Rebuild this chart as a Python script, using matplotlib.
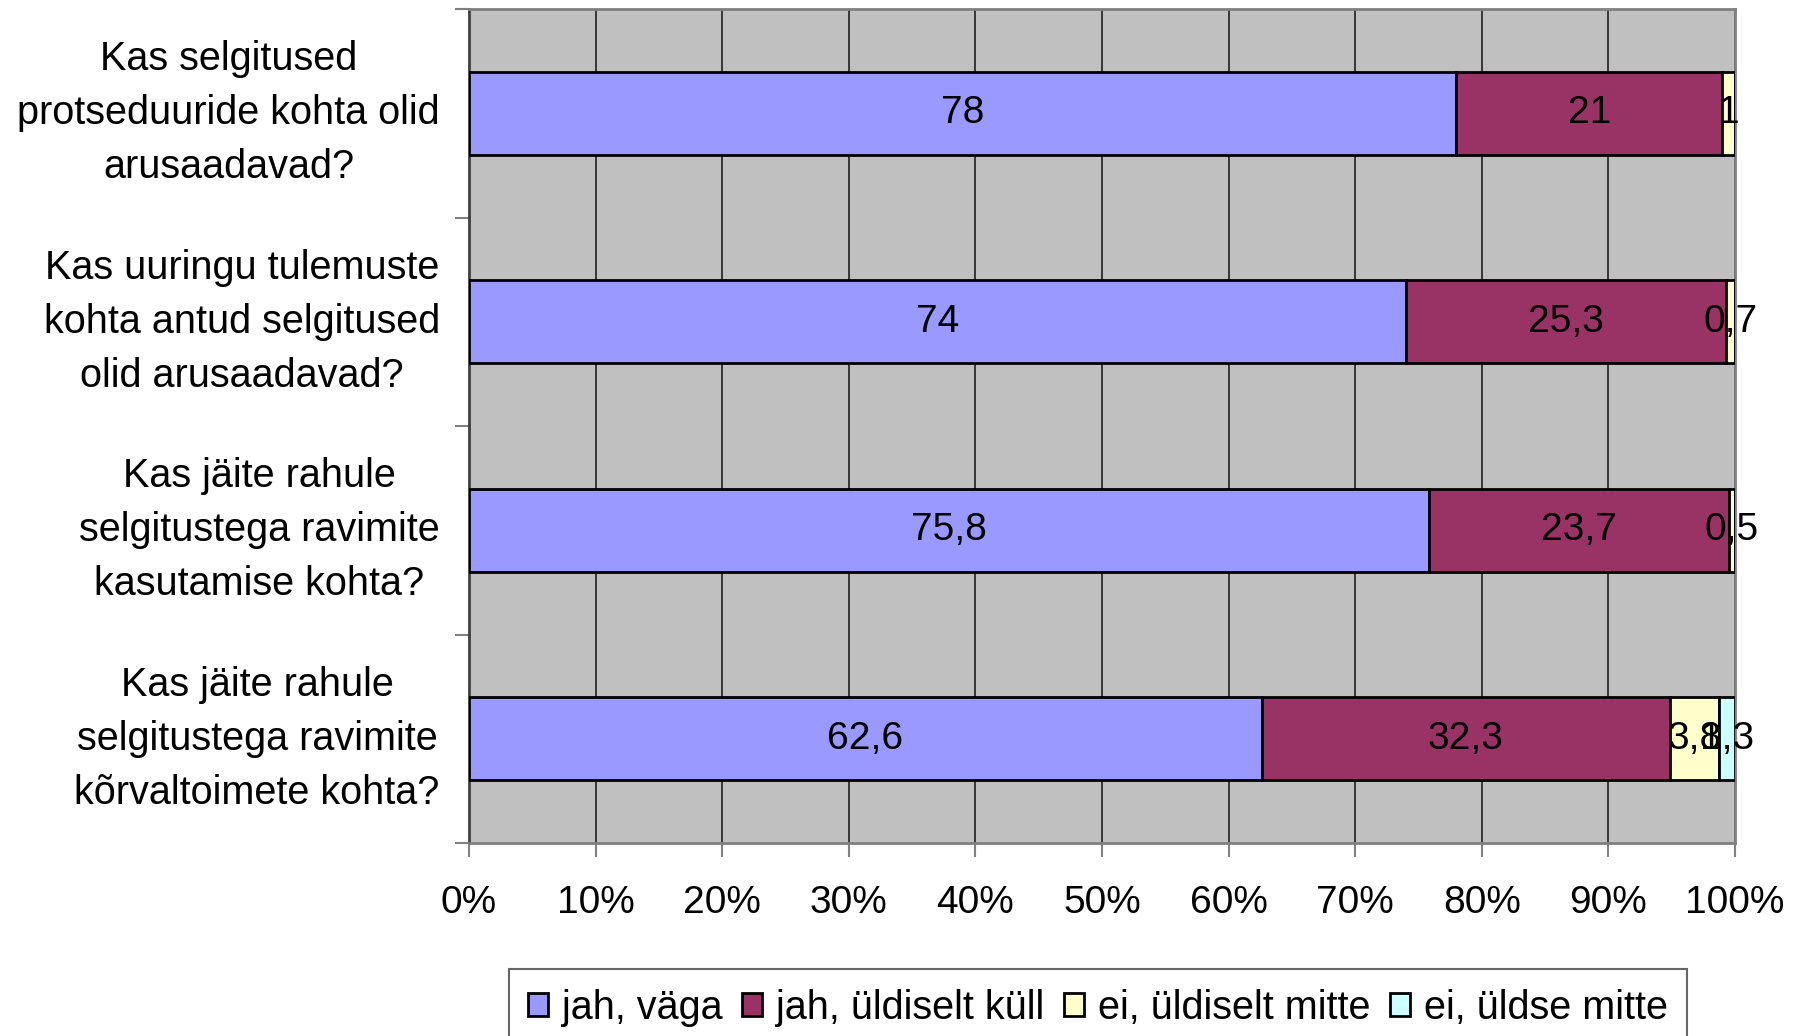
import matplotlib
matplotlib.use("Agg")
import matplotlib.pyplot as plt
import numpy as np

plt.rcParams['font.family'] = ['Liberation Sans', 'DejaVu Sans']

categories = [
    "Kas selgitused\nprotseduuride kohta olid\narusaadavad?",
    "Kas uuringu tulemuste\nkohta antud selgitused\nolid arusaadavad?",
    "Kas jäite rahule\nselgitustega ravimite\nkasutamise kohta?",
    "Kas jäite rahule\nselgitustega ravimite\nkõrvaltoimete kohta?",
]
series_names = ["jah, väga", "jah, üldiselt küll", "ei, üldiselt mitte", "ei, üldse mitte"]
jah_vaga = [78, 74, 75.8, 62.6]
jah_uldiselt = [21, 25.3, 23.7, 32.3]
ei_uldiselt = [1, 0.7, 0.5, 3.8]
ei_uldse = [0, 0, 0, 1.3]
colors = ["#9999FF", "#993366", "#FFFFCC", "#CCFFFF"]
xticklabels = ["0%", "10%", "20%", "30%", "40%", "50%", "60%", "70%", "80%", "90%", "100%"]

data = np.array([jah_vaga, jah_uldiselt, ei_uldiselt, ei_uldse])
totals = data.sum(axis=0)
pct = data / totals * 100

FS = 28

fig = plt.figure(figsize=(17.98, 10.36), dpi=100)
ax = fig.add_axes([469/1798, 1 - 843/1036, (1735-469)/1798, (843-9)/1036])
ax.set_facecolor("#C0C0C0")

y = np.arange(len(categories))
left = np.zeros(len(categories))
handles = []
for i, name in enumerate(series_names):
    h = ax.barh(y, pct[i], left=left, height=0.4, color=colors[i],
                edgecolor="black", linewidth=2, label=name, zorder=3)
    handles.append(h)
    for j in range(len(categories)):
        v = data[i, j]
        if v > 0:
            txt = ("%g" % v).replace(".", ",")
            ax.text(left[j] + pct[i, j] / 2, y[j], txt, ha="center", va="center",
                    fontsize=FS, color="black", zorder=5)
    left = left + pct[i]

ax.set_xlim(0, 100)
ax.set_ylim(len(categories) - 0.5, -0.5)
ax.set_xticks(np.arange(0, 101, 10))
ax.set_xticklabels(xticklabels, fontsize=FS)
ax.set_yticks(y)
ax.set_yticklabels(categories, fontsize=28.5, linespacing=1.54, ha="right",
                   va="center", multialignment="center")
ax.tick_params(axis="y", length=0, pad=21)
ax.set_yticks(np.arange(-0.5, len(categories), 1), minor=True)
ax.tick_params(axis="y", which="minor", length=10, color="#808080", width=1.5)
ax.tick_params(axis="x", length=10, color="#808080", width=1.5, pad=20)
ax.xaxis.grid(True, color="#202020", linewidth=1.2, zorder=1)
ax.set_axisbelow(True)
for s in ["top", "right"]:
    ax.spines[s].set_color("#808080")
    ax.spines[s].set_linewidth(2)
ax.spines["left"].set_color("#404040")
ax.spines["left"].set_linewidth(2)
ax.spines["bottom"].set_color("#808080")
ax.spines["bottom"].set_linewidth(2)

leg = fig.legend(handles=handles, labels=series_names, loc="upper center",
                 bbox_to_anchor=(1098/1798, 1 - 969/1036), ncol=4, fontsize=28.5,
                 frameon=True, fancybox=False, edgecolor="#404040",
                 handlelength=0.5, handleheight=0.5, handletextpad=0.35,
                 columnspacing=0.5, borderpad=0.5, borderaxespad=0)
leg.get_frame().set_linewidth(1.5)

fig.savefig("out.png", dpi=100)
